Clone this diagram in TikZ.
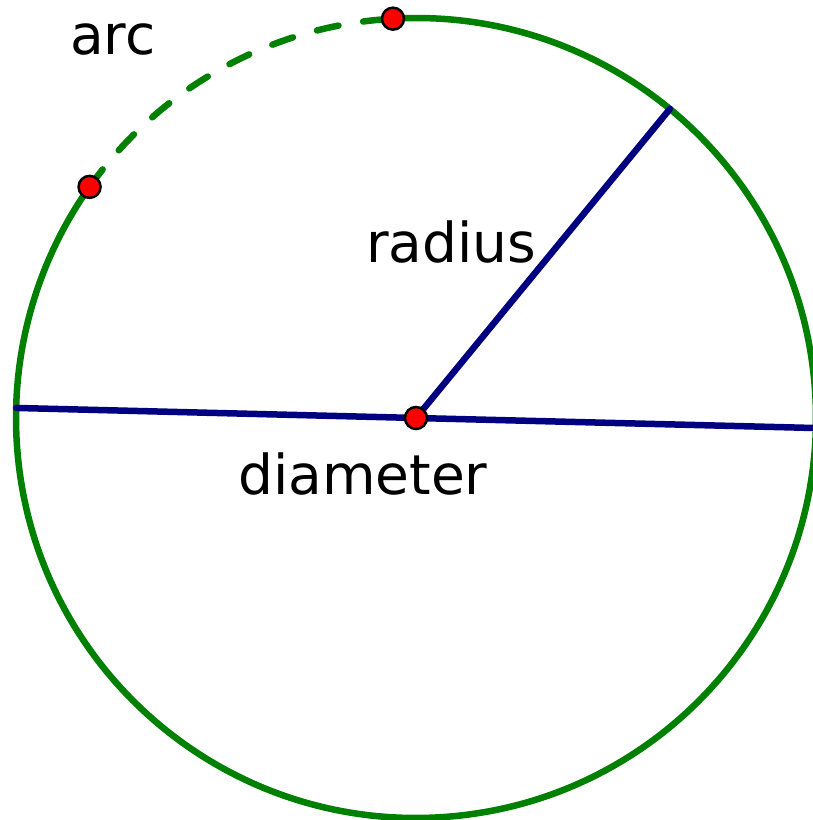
\documentclass[tikz,border=0pt]{standalone}
\usepackage{fontspec}
\setmainfont{DejaVu Sans}
\usetikzlibrary{calc}
\definecolor{circgreen}{RGB}{0,128,0}
\definecolor{navy}{RGB}{0,0,128}
\begin{document}
\begin{tikzpicture}[x=1pt,y=1pt,
  circline/.style={circgreen,line width=6.5pt},
  bluel/.style={navy,line width=6.5pt,line cap=round},
  reddot/.style={circle,fill=red,draw=black,line width=2.5pt,minimum size=22pt,inner sep=0pt},
  lbl/.style={font=\fontsize{55}{60}\selectfont,anchor=base west,inner sep=0pt}]
\useasboundingbox (0,0) rectangle (812,820);
\coordinate (c) at (416,402);
\draw[circline] (c) ++(93.3:400) arc[start angle=93.3,end angle=-215.3,radius=400];
\draw[circline,line cap=round,dash pattern=on 22pt off 25pt,dash phase=-8pt] (c) ++(93.3:400) arc[start angle=93.3,end angle=144.7,radius=400];
\coordinate (dl) at ($(c)+(178.56:400)$);
\coordinate (dr) at ($(c)+(-1.44:400)$);
\coordinate (re) at ($(c)+(50.6:400)$);
\draw[bluel] (dl) -- (dr);
\draw[bluel] (c) -- (re);
\node[reddot] (p1) at ($(c)+(93.3:400)$) {};
\node[reddot] (p2) at ($(c)+(144.7:400)$) {};
\node[reddot] (p0) at (c) {};
\node[lbl] (arc) at (70,765) {arc};
\node[lbl] (rad) at (366,557) {radius};
\node[lbl] (dia) at (238,325) {diameter};
\end{tikzpicture}
\end{document}
